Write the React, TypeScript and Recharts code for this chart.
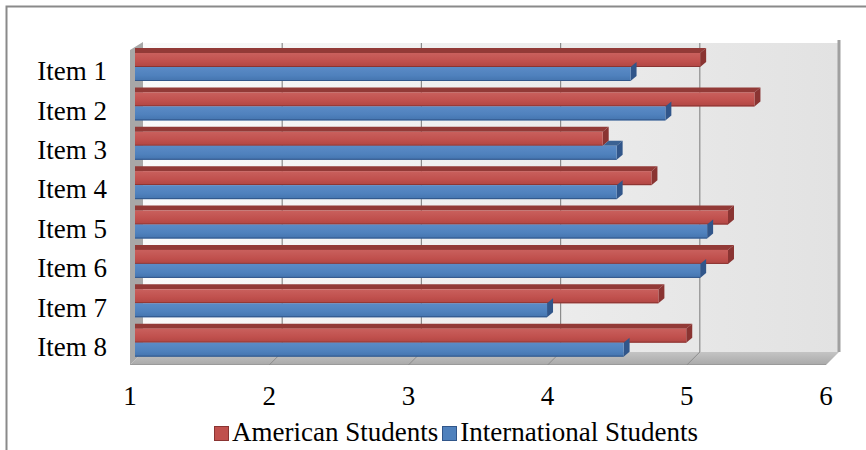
import React from "react";
import { BarChart, Bar, XAxis, YAxis, CartesianGrid } from "recharts";

const items = ["Item 1", "Item 2", "Item 3", "Item 4", "Item 5", "Item 6", "Item 7", "Item 8"];
const american = [5.06, 5.45, 4.36, 4.71, 5.26, 5.26, 4.76, 4.96];
const international = [4.56, 4.81, 4.46, 4.46, 5.11, 5.06, 3.96, 4.51];
const xTicks = [1, 2, 3, 4, 5, 6];
const seriesNames = ["American Students", "International Students"];

const rows = items.map((item, i) => ({
  item,
  american: american[i],
  international: international[i],
}));

const W = 866;
const H = 450;
const FONT = "'Liberation Serif', 'Times New Roman', serif";
const FS = 27;

// plot area (bar plane) and the fake 3d box around it
const PLOT_L = 135;
const PLOT_R = 831;
const BACK_DX = 8;
const BACK_TOP = 43;
const BACK_BOTTOM = 352;
const FRONT_DX = -5;
const FRONT_BOTTOM = 365;

const DX = 6; // bar depth
const DY = 5;

const red = { front: "#c0504d", top: "#923a37", side: "#8a3432" };
const blue = { front: "#4f81bd", top: "#3b6293", side: "#31568a" };

function faces(x: number, y: number, w: number, h: number, c: typeof red, topFrom: number, gid: string) {
  const right = x + w;
  return (
    <g>
      {topFrom < right && (
        <polygon
          points={`${topFrom},${y} ${right},${y} ${right + DX},${y - DY} ${topFrom + (topFrom > x ? DX : 0)},${y - DY}`}
          fill={c.top}
        />
      )}
      <polygon
        points={`${right},${y} ${right + DX},${y - DY} ${right + DX},${y + h - DY} ${right},${y + h}`}
        fill={c.side}
      />
      <rect x={x} y={y} width={w} height={h} fill={`url(#${gid})`} />
      <line x1={x} x2={right} y1={y + h - 0.5} y2={y + h - 0.5} stroke={c.side} strokeWidth={1} />
    </g>
  );
}

function RedBar(props: any) {
  const { x, y, width, height } = props;
  if (!width) return null;
  return faces(x, y, width, height, red, x, "gradRed");
}

function BlueBar(props: any) {
  const { x, y, width, height, payload } = props;
  if (!width) return null;
  // top face is hidden behind the red bar up to where the red bar ends
  const redEnd = x + (width * (payload.american - 1)) / (payload.international - 1);
  return faces(x, y, width, height, blue, Math.max(x, redEnd), "gradBlue");
}

function YTick(props: any) {
  const { x, y, payload } = props;
  return (
    <text x={x - 26} y={y + 4} dy="0.355em" textAnchor="end" fontSize={FS} fontFamily={FONT} fill="#000">
      {payload.value}
    </text>
  );
}

function XTick(props: any) {
  const { x, y, payload } = props;
  return (
    <text x={x - 5} y={y + 41} textAnchor="middle" fontSize={FS} fontFamily={FONT} fill="#000">
      {payload.value}
    </text>
  );
}

function GridLine(props: any) {
  const { x1, key } = props;
  if (x1 <= PLOT_L + 1 || x1 >= PLOT_R - 1) return <g key={key} />;
  return (
    <g key={key}>
      <line x1={x1 + BACK_DX} x2={x1 + BACK_DX} y1={BACK_TOP} y2={BACK_BOTTOM} stroke="#8c8c8c" strokeWidth={1.2} />
      <line x1={x1 + FRONT_DX} y1={FRONT_BOTTOM} x2={x1 + BACK_DX} y2={BACK_BOTTOM} stroke="#8c8c8c" strokeWidth={1} />
    </g>
  );
}

function Backdrop() {
  const bl = PLOT_L + BACK_DX;
  const br = PLOT_R + BACK_DX;
  const fl = PLOT_L + FRONT_DX;
  const fr = PLOT_R + FRONT_DX;
  return (
    <svg width={W} height={H} style={{ position: "absolute", left: 0, top: 0 }}>
      <defs>
        <linearGradient id="wall" x1="0" y1="0" x2="1" y2="0">
          <stop offset="0" stopColor="#fafafa" />
          <stop offset="1" stopColor="#e2e2e2" />
        </linearGradient>
        <linearGradient id="floor" x1="0" y1="0" x2="0" y2="1">
          <stop offset="0" stopColor="#c4c4c4" />
          <stop offset="1" stopColor="#a9a9a9" />
        </linearGradient>
        <linearGradient id="gradRed" x1="0" y1="0" x2="0" y2="1">
          <stop offset="0" stopColor="#c9605d" />
          <stop offset="0.6" stopColor="#c0504d" />
          <stop offset="1" stopColor="#b04643" />
        </linearGradient>
        <linearGradient id="gradBlue" x1="0" y1="0" x2="0" y2="1">
          <stop offset="0" stopColor="#5b8bc6" />
          <stop offset="0.6" stopColor="#4f81bd" />
          <stop offset="1" stopColor="#4474ae" />
        </linearGradient>
      </defs>
      <rect x={6.5} y={6.5} width={W + 10} height={H + 10} fill="#fff" stroke="#8a8a8a" strokeWidth={2} />
      <rect x={bl} y={BACK_TOP} width={br - bl} height={BACK_BOTTOM - BACK_TOP} fill="url(#wall)" />
      <polygon points={`${fl},${FRONT_BOTTOM} ${fr},${FRONT_BOTTOM} ${br},${BACK_BOTTOM} ${bl},${BACK_BOTTOM}`} fill="url(#floor)" />
      <line x1={fl} x2={fr} y1={FRONT_BOTTOM - 0.5} y2={FRONT_BOTTOM - 0.5} stroke="#9a9a9a" />
      <polygon points={`${fl},${BACK_TOP + 7} ${bl},${BACK_TOP - 1} ${bl},${BACK_BOTTOM} ${fl},${FRONT_BOTTOM}`} fill="#a8a8a8" />
      <line x1={br} x2={br} y1={BACK_TOP - 3} y2={BACK_BOTTOM} stroke="#a0a0a0" strokeWidth={3} />
    </svg>
  );
}

function Legend() {
  const colors = [red, blue];
  return (
    <div
      style={{
        position: "absolute",
        left: 214,
        top: 417,
        display: "flex",
        alignItems: "center",
        fontFamily: FONT,
        fontSize: FS,
        lineHeight: "30px",
        color: "#000",
        whiteSpace: "nowrap",
      }}
    >
      {seriesNames.map((name, i) => (
        <div key={name} style={{ display: "flex", alignItems: "center", marginRight: 4 }}>
          <span
            style={{
              display: "inline-block",
              width: 13,
              height: 13,
              background: colors[i].front,
              border: `1.5px solid ${colors[i].side}`,
              marginRight: 3,
              marginTop: 2,
            }}
          />
          <span>{name}</span>
        </div>
      ))}
    </div>
  );
}

export default function App() {
  return (
    <div style={{ position: "absolute", left: 0, top: 0, width: W, height: H, background: "#fff" }}>
      <Backdrop />
      <div style={{ position: "absolute", left: 0, top: 0 }}>
        <BarChart
          width={W}
          height={H}
          layout="vertical"
          data={rows}
          margin={{ top: 47, right: W - PLOT_R, bottom: 38, left: 10 }}
          barGap={0}
          barSize={14}
        >
          <CartesianGrid horizontal={false} vertical={GridLine} />
          <XAxis
            type="number"
            domain={[1, 6]}
            ticks={xTicks}
            height={50}
            axisLine={false}
            tickLine={false}
            tickSize={0}
            tick={<XTick />}
          />
          <YAxis
            type="category"
            dataKey="item"
            width={125}
            axisLine={false}
            tickLine={false}
            tickSize={0}
            tick={<YTick />}
          />
          <Bar dataKey="american" name={seriesNames[0]} shape={RedBar} isAnimationActive={false} />
          <Bar dataKey="international" name={seriesNames[1]} shape={BlueBar} isAnimationActive={false} />
        </BarChart>
      </div>
      <Legend />
    </div>
  );
}
